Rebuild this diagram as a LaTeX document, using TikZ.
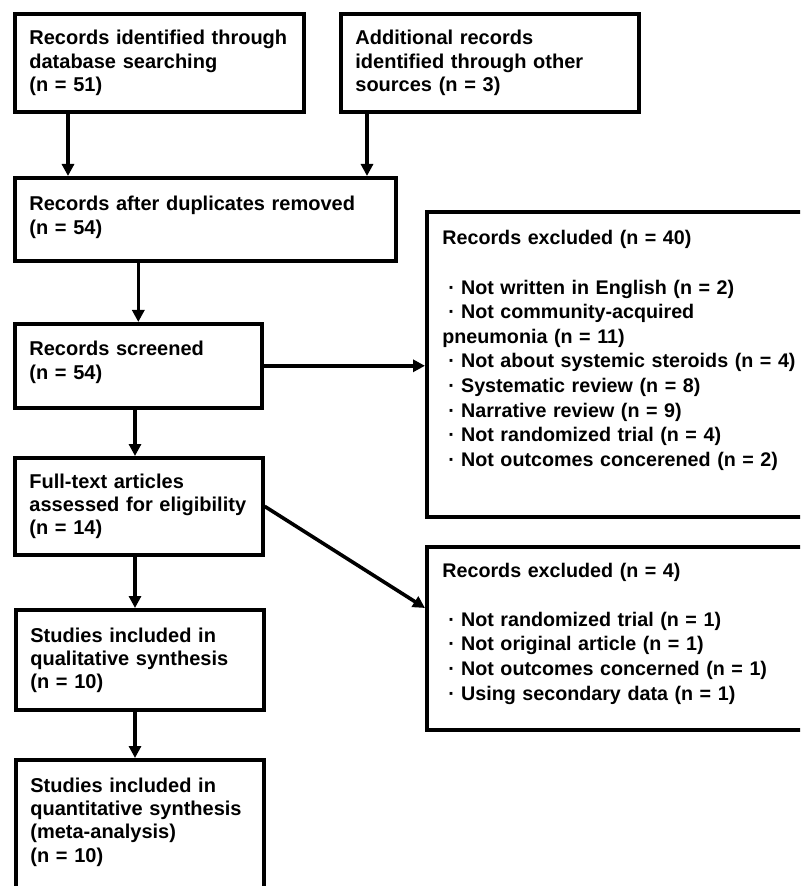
\documentclass[tikz,border=0pt]{standalone}
\usepackage{fontspec}
\setmainfont{Liberation Sans}
\usetikzlibrary{arrows.meta}

\newdimen\px \px=0.5pt
\newcommand\bul{\makebox[0.95em]{·}}

\tikzset{
  box/.style={draw, line width=1.8pt, anchor=north west, inner sep=0pt},
  txt/.style={anchor=base west, align=left, text width=400\px, inner sep=0pt},
  rtxt/.style={txt, font=\bfseries\fontsize{9.85}{12.3}\selectfont},
  flow/.style={line width=1.8pt, -{Triangle[length=6pt,width=6pt]}}
}

\begin{document}
\begin{tikzpicture}[x=0.5pt, y=-0.5pt, font=\bfseries\fontsize{10}{11.7}\selectfont]
  \useasboundingbox (0,0) rectangle (800,886);
  \clip (0,0) rectangle (800,886);

  % boxes
  \node[box, minimum width=289\px, minimum height=98\px]  (recid)  at (13,12)  {};
  \node[box, minimum width=298\px, minimum height=98\px]  (addrec) at (339,12) {};
  \node[box, minimum width=381\px, minimum height=83\px]  (dedup)  at (13,176) {};
  \node[box, minimum width=247\px, minimum height=84\px]  (screen) at (13,322) {};
  \node[box, minimum width=248\px, minimum height=97\px]  (full)   at (13,456) {};
  \node[box, minimum width=248\px, minimum height=100\px] (qual)   at (14,608) {};
  \node[box, minimum width=248\px, minimum height=200\px] (quant)  at (14,758) {};
  \node[box, minimum width=450\px, minimum height=305\px] (excl1)  at (425,210) {};
  \node[box, minimum width=450\px, minimum height=183\px] (excl2)  at (425,545) {};

  % texts
  \node[txt] (recid-t)  at ([shift={(16,33)}]recid.north west)  {Records identified through\\database searching\\(n = 51)};
  \node[txt] (addrec-t) at ([shift={(16,33)}]addrec.north west) {Additional records\\identified through other\\sources (n = 3)};
  \node[txt] (dedup-t)  at ([shift={(16,35)}]dedup.north west)  {Records after duplicates removed\\(n = 54)};
  \node[txt] (screen-t) at ([shift={(16,34)}]screen.north west) {Records screened\\(n = 54)};
  \node[txt] (full-t)   at ([shift={(16,32)}]full.north west)   {Full-text articles\\assessed for eligibility\\(n = 14)};
  \node[txt] (qual-t)   at ([shift={(16,34)}]qual.north west)   {Studies included in\\qualitative synthesis\\(n = 10)};
  \node[txt] (quant-t)  at ([shift={(16,34)}]quant.north west)  {Studies included in\\quantitative synthesis\\(meta-analysis)\\(n = 10)};
  \node[rtxt] (excl1-t) at ([shift={(17,35)}]excl1.north west)  {Records excluded (n = 40)\\[12.3pt]
    \bul Not written in English (n = 2)\\
    \bul Not community-acquired\\
    pneumonia (n = 11)\\
    \bul Not about systemic steroids (n = 4)\\
    \bul Systematic review (n = 8)\\
    \bul Narrative review (n = 9)\\
    \bul Not randomized trial (n = 4)\\
    \bul Not outcomes concerened (n = 2)};
  \node[rtxt] (excl2-t) at ([shift={(17,32)}]excl2.north west)  {Records excluded (n = 4)\\[12.3pt]
    \bul Not randomized trial (n = 1)\\
    \bul Not original article (n = 1)\\
    \bul Not outcomes concerned (n = 1)\\
    \bul Using secondary data (n = 1)};

  % connectors
  \coordinate (colA) at (68,0);
  \coordinate (colB) at (367,0);
  \coordinate (spine) at (135,0);
  \draw[flow] (recid.south -| colA) -- (dedup.north -| colA);
  \draw[flow] (addrec.south -| colB) -- (dedup.north -| colB);
  \draw[flow] (dedup.south -| screen.north) -- (screen.north);
  \draw[flow] (screen.south -| spine) -- (full.north -| spine);
  \draw[flow] (full.south -| spine) -- (qual.north -| spine);
  \draw[flow] (qual.south -| spine) -- (quant.north -| spine);
  \draw[flow] (screen.east) -- (screen.east -| excl1.west);
  \draw[flow] (full.east) -- ([yshift=-31.5pt]excl2.north west);
\end{tikzpicture}
\end{document}
